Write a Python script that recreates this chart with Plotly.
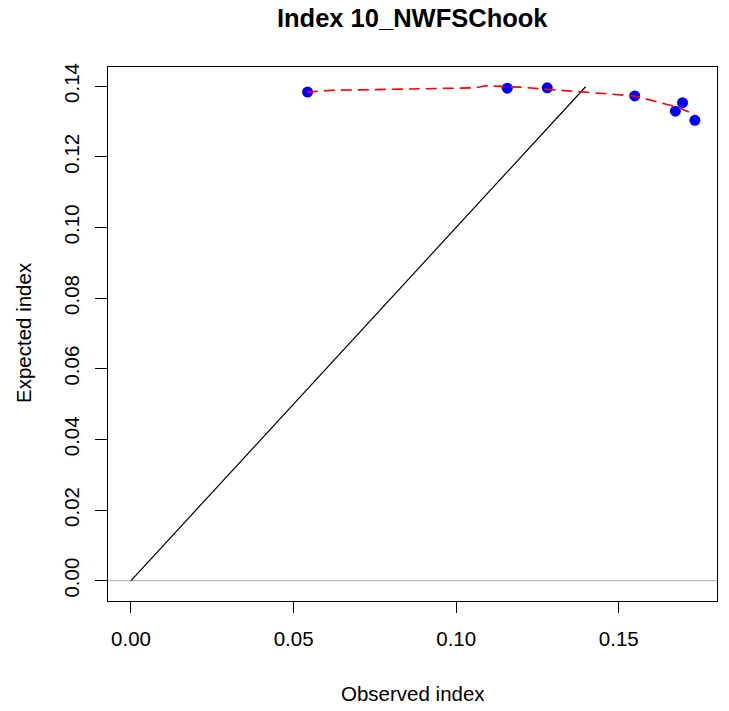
import plotly.graph_objects as go

# Observed vs expected index (points)
obs_x = [0.0543, 0.1157, 0.1280, 0.1549, 0.1674, 0.1696, 0.1734]
exp_y = [0.1383, 0.1394, 0.1395, 0.1372, 0.1329, 0.1353, 0.1303]

# Smoother (red dashed line)
smooth_x = [0.0541, 0.0618, 0.1058, 0.1089, 0.1159, 0.1196, 0.1279, 0.1389, 0.1549, 0.1678, 0.1734]
smooth_y = [0.1383, 0.1388, 0.1395, 0.1401, 0.1398, 0.1397, 0.1391, 0.1384, 0.1372, 0.1341, 0.1320]

# 1:1 reference line
diag_x = [0.0, 0.1398]
diag_y = [0.0, 0.1398]

x_ticks = [0.00, 0.05, 0.10, 0.15]
x_ticklabels = ["0.00", "0.05", "0.10", "0.15"]
y_ticks = [0.00, 0.02, 0.04, 0.06, 0.08, 0.10, 0.12, 0.14]
y_ticklabels = ["0.00", "0.02", "0.04", "0.06", "0.08", "0.10", "0.12", "0.14"]

FONT = "Liberation Sans, Arial, sans-serif"

fig = go.Figure()
fig.add_trace(go.Scatter(x=diag_x, y=diag_y, mode="lines",
                         line=dict(color="black", width=1.2), showlegend=False))
fig.add_trace(go.Scatter(x=obs_x, y=exp_y, mode="markers",
                         marker=dict(color="#0000FF", size=11, line=dict(width=0)),
                         showlegend=False))
fig.add_trace(go.Scatter(x=smooth_x, y=smooth_y, mode="lines",
                         line=dict(color="#FF0000", width=1.6, dash="11px,6px"),
                         showlegend=False))

fig.add_shape(type="line", xref="paper", yref="y", x0=0, x1=1, y0=0, y1=0,
              line=dict(color="#BEBEBE", width=1.2), layer="below")

fig.update_layout(
    width=729, height=711,
    margin=dict(l=108, r=12, t=67, b=110),
    paper_bgcolor="white", plot_bgcolor="white",
    font=dict(family=FONT, color="black", size=20),
    title=dict(text="<b>Index 10_NWFSChook</b>", x=0.5655, xanchor="center",
               y=1 - 18 / 711, yanchor="middle",
               font=dict(family=FONT, size=25.5, color="black")),
    showlegend=False,
)

fig.update_xaxes(range=[-0.00707, 0.1802], tickvals=x_ticks, ticktext=x_ticklabels,
                 showgrid=False, zeroline=False, showline=True, mirror=True,
                 linecolor="black", linewidth=1.2, ticks="outside", ticklen=11,
                 tickcolor="black", tickwidth=1.2, ticklabelstandoff=8,
                 tickfont=dict(family=FONT, size=20.5, color="black"))
fig.update_yaxes(range=[-0.00575, 0.1454], tickvals=y_ticks, ticktext=y_ticklabels,
                 showgrid=False, zeroline=False, showline=True, mirror=True,
                 linecolor="black", linewidth=1.2, ticks="outside", ticklen=12,
                 tickcolor="black", tickwidth=1.2, tickangle=-90, ticklabelstandoff=8,
                 tickfont=dict(family=FONT, size=20.5, color="black"))

fig.add_annotation(text="Observed index", xref="paper", yref="paper",
                   x=0.5, y=(601 - 693) / 534, xanchor="center", yanchor="middle",
                   showarrow=False, font=dict(family=FONT, size=20.5, color="black"))
fig.add_annotation(text="Expected index", xref="paper", yref="paper",
                   x=(23 - 108) / 609, y=(601 - 333) / 534, xanchor="center", yanchor="middle",
                   textangle=-90, showarrow=False,
                   font=dict(family=FONT, size=20.5, color="black"))

fig.write_html("out.html")
